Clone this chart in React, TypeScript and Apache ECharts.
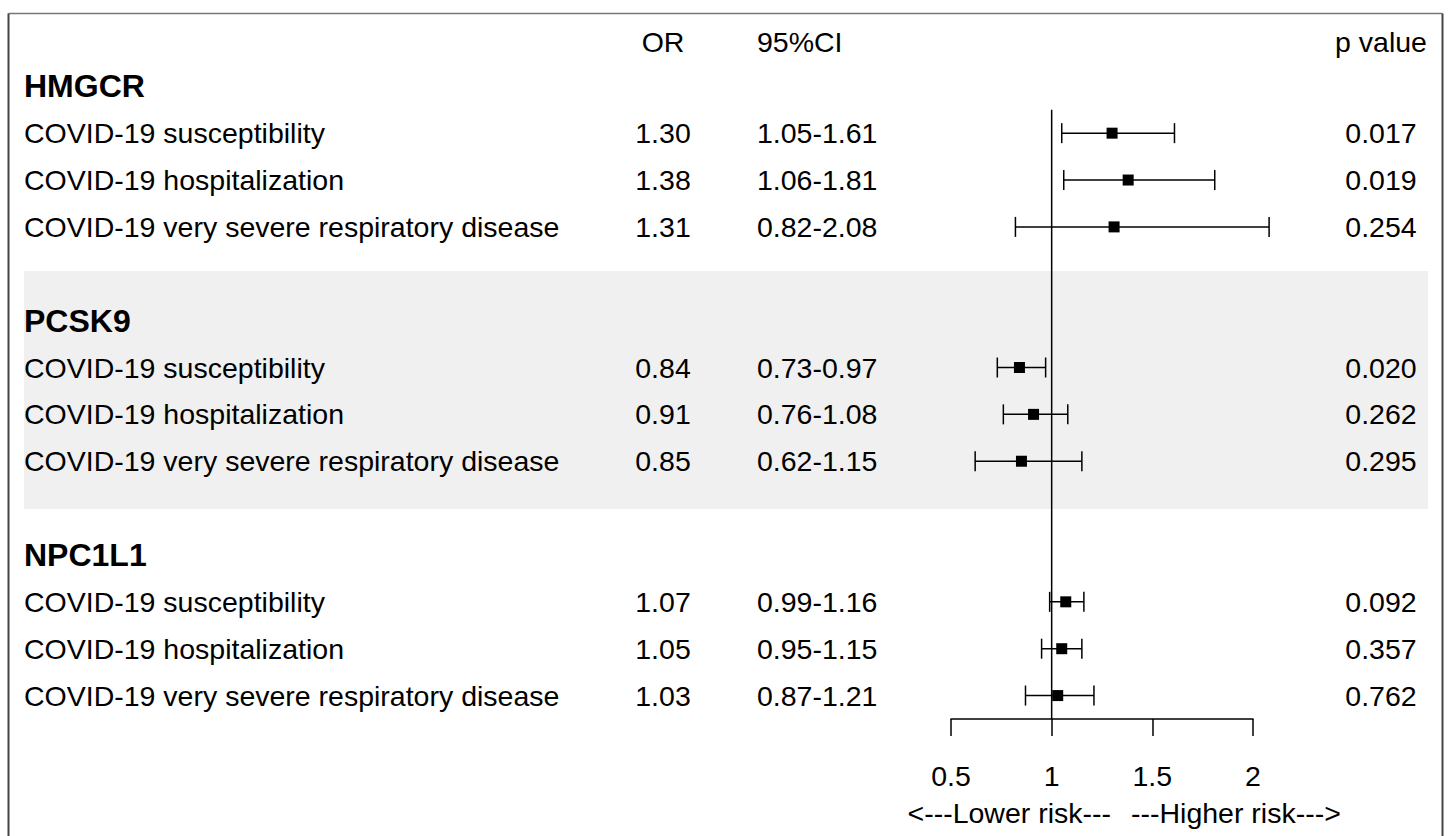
import React, { useEffect, useRef } from 'react';
import * as echarts from 'echarts';

const groups = ['HMGCR', 'PCSK9', 'NPC1L1'];
const outcomes = [
  'COVID-19 susceptibility',
  'COVID-19 hospitalization',
  'COVID-19 very severe respiratory disease',
];
const orValues = [1.30, 1.38, 1.31, 0.84, 0.91, 0.85, 1.07, 1.05, 1.03];
const ciLower = [1.05, 1.06, 0.82, 0.73, 0.76, 0.62, 0.99, 0.95, 0.87];
const ciUpper = [1.61, 1.81, 2.08, 0.97, 1.08, 1.15, 1.16, 1.15, 1.21];
const pValues = ['0.017', '0.019', '0.254', '0.020', '0.262', '0.295', '0.092', '0.357', '0.762'];
const headers = ['OR', '95%CI', 'p value'];
const xTicks = { min: 0.5, max: 2, interval: 0.5 };
const riskLabels = ['<---Lower risk---', '---Higher risk--->'];

const FONT = "'Liberation Sans', Arial, sans-serif";
const FS = 28.5;

export default function App() {
  const ref = useRef<HTMLDivElement>(null);
  useEffect(() => {
    const chart = echarts.init(ref.current as HTMLDivElement, null, { renderer: 'svg' });

    const groupRow = (g: number) => g * 5;
    const rows: { idx: number; row: number; g: number; k: number }[] = [];
    groups.forEach((_, gi) =>
      outcomes.forEach((_, k) => rows.push({ idx: gi * 3 + k, row: groupRow(gi) + 1 + k, g: gi, k }))
    );

    const textSeries = (
      data: { x: number; row: number; text: string }[],
      position: string,
      bold = false,
      fontSize = FS
    ) => ({
      type: 'scatter',
      xAxisIndex: 1,
      yAxisIndex: 1,
      symbolSize: 0,
      silent: true,
      z: 5,
      itemStyle: { opacity: 1 },
      data: data.map((d) => ({ name: d.text, value: [d.x, d.row] })),
      label: {
        show: true,
        position,
        distance: 0,
        formatter: '{b}',
        color: '#000',
        opacity: 1,
        fontFamily: FONT,
        fontSize,
        fontWeight: bold ? 'bold' : 'normal',
      },
      emphasis: { disabled: true },
    });

    const option: any = {
      animation: false,
      backgroundColor: '#fff',
      grid: [
        { left: 951, width: 302, top: 16, bottom: 117 },
        { left: 0, right: 0, top: 16, bottom: 117 },
      ],
      xAxis: [
        {
          type: 'value',
          gridIndex: 0,
          min: xTicks.min,
          max: xTicks.max,
          interval: xTicks.interval,
          splitLine: { show: false },
          axisLine: { onZero: false, lineStyle: { color: '#000', width: 1.5 } },
          axisTick: { length: 17, lineStyle: { color: '#000', width: 1.5 } },
          axisLabel: { color: '#000', fontSize: FS, fontFamily: FONT, margin: 42 },
        },
        { type: 'value', gridIndex: 1, min: 0, max: 1448, show: false },
      ],
      yAxis: [
        { type: 'value', gridIndex: 0, min: -1.5, max: 13.5, inverse: true, show: false },
        { type: 'value', gridIndex: 1, min: -1.5, max: 13.5, inverse: true, show: false },
      ],
      graphic: [
        { type: 'rect', z: 0, shape: { x: 24, y: 271, width: 1404, height: 238 }, style: { fill: '#f0f0f0' } },
        { type: 'line', z: 10, shape: { x1: 8.5, y1: 13.5, x2: 1442.5, y2: 13.5 }, style: { stroke: '#777', lineWidth: 1.5 } },
        { type: 'line', z: 10, shape: { x1: 8.5, y1: 13.5, x2: 8.5, y2: 836 }, style: { stroke: '#444', lineWidth: 2 } },
        { type: 'line', z: 10, shape: { x1: 1442.5, y1: 13.5, x2: 1442.5, y2: 836 }, style: { stroke: '#444', lineWidth: 2 } },
        {
          type: 'text', z: 10, x: 1111, y: 813,
          style: { text: riskLabels[0], fill: '#000', font: `${FS}px ${FONT}`, textAlign: 'right', textVerticalAlign: 'middle' },
        },
        {
          type: 'text', z: 10, x: 1131, y: 813,
          style: { text: riskLabels[1], fill: '#000', font: `${FS}px ${FONT}`, textAlign: 'left', textVerticalAlign: 'middle' },
        },
      ],
      series: [
        {
          type: 'line',
          xAxisIndex: 0,
          yAxisIndex: 0,
          data: [[1, 0.5], [1, 13.5]],
          symbol: 'none',
          silent: true,
          lineStyle: { color: '#000', width: 1.5 },
          z: 3,
        },
        {
          type: 'custom',
          xAxisIndex: 0,
          yAxisIndex: 0,
          clip: false,
          silent: true,
          z: 4,
          encode: { x: [0, 1], y: 2 },
          data: rows.map((r) => [ciLower[r.idx], ciUpper[r.idx], r.row]),
          renderItem: (params: any, api: any) => {
            const a = api.coord([api.value(0), api.value(2)]);
            const b = api.coord([api.value(1), api.value(2)]);
            const h = 10;
            const st = { stroke: '#000', lineWidth: 1.5 };
            return {
              type: 'group',
              children: [
                { type: 'line', shape: { x1: a[0], y1: a[1], x2: b[0], y2: b[1] }, style: st },
                { type: 'line', shape: { x1: a[0], y1: a[1] - h, x2: a[0], y2: a[1] + h }, style: st },
                { type: 'line', shape: { x1: b[0], y1: b[1] - h, x2: b[0], y2: b[1] + h }, style: st },
              ],
            };
          },
        },
        {
          type: 'scatter',
          xAxisIndex: 0,
          yAxisIndex: 0,
          symbol: 'rect',
          symbolSize: 11,
          clip: false,
          silent: true,
          z: 6,
          itemStyle: { color: '#000', opacity: 1 },
          data: rows.map((r) => [orValues[r.idx], r.row]),
        },
        // header
        textSeries([{ x: 663, row: -0.95, text: headers[0] }], 'inside'),
        textSeries([{ x: 757, row: -0.95, text: headers[1] }], 'right'),
        textSeries([{ x: 1381, row: -0.95, text: headers[2] }], 'inside'),
        // group labels
        textSeries(groups.map((g, gi) => ({ x: 24, row: groupRow(gi), text: g })), 'right', true, 32),
        // outcome labels
        textSeries(rows.map((r) => ({ x: 24, row: r.row, text: outcomes[r.k] })), 'right'),
        // OR
        textSeries(rows.map((r) => ({ x: 663, row: r.row, text: orValues[r.idx].toFixed(2) })), 'inside'),
        // CI
        textSeries(
          rows.map((r) => ({ x: 757, row: r.row, text: `${ciLower[r.idx].toFixed(2)}-${ciUpper[r.idx].toFixed(2)}` })),
          'right'
        ),
        // p
        textSeries(rows.map((r) => ({ x: 1381, row: r.row, text: pValues[r.idx] })), 'inside'),
      ],
    };
    chart.setOption(option);
    return () => chart.dispose();
  }, []);
  return (
    <div
      ref={ref}
      style={{ position: 'fixed', left: 0, top: 0, width: 1448, height: 836, background: '#fff' }}
    />
  );
}
